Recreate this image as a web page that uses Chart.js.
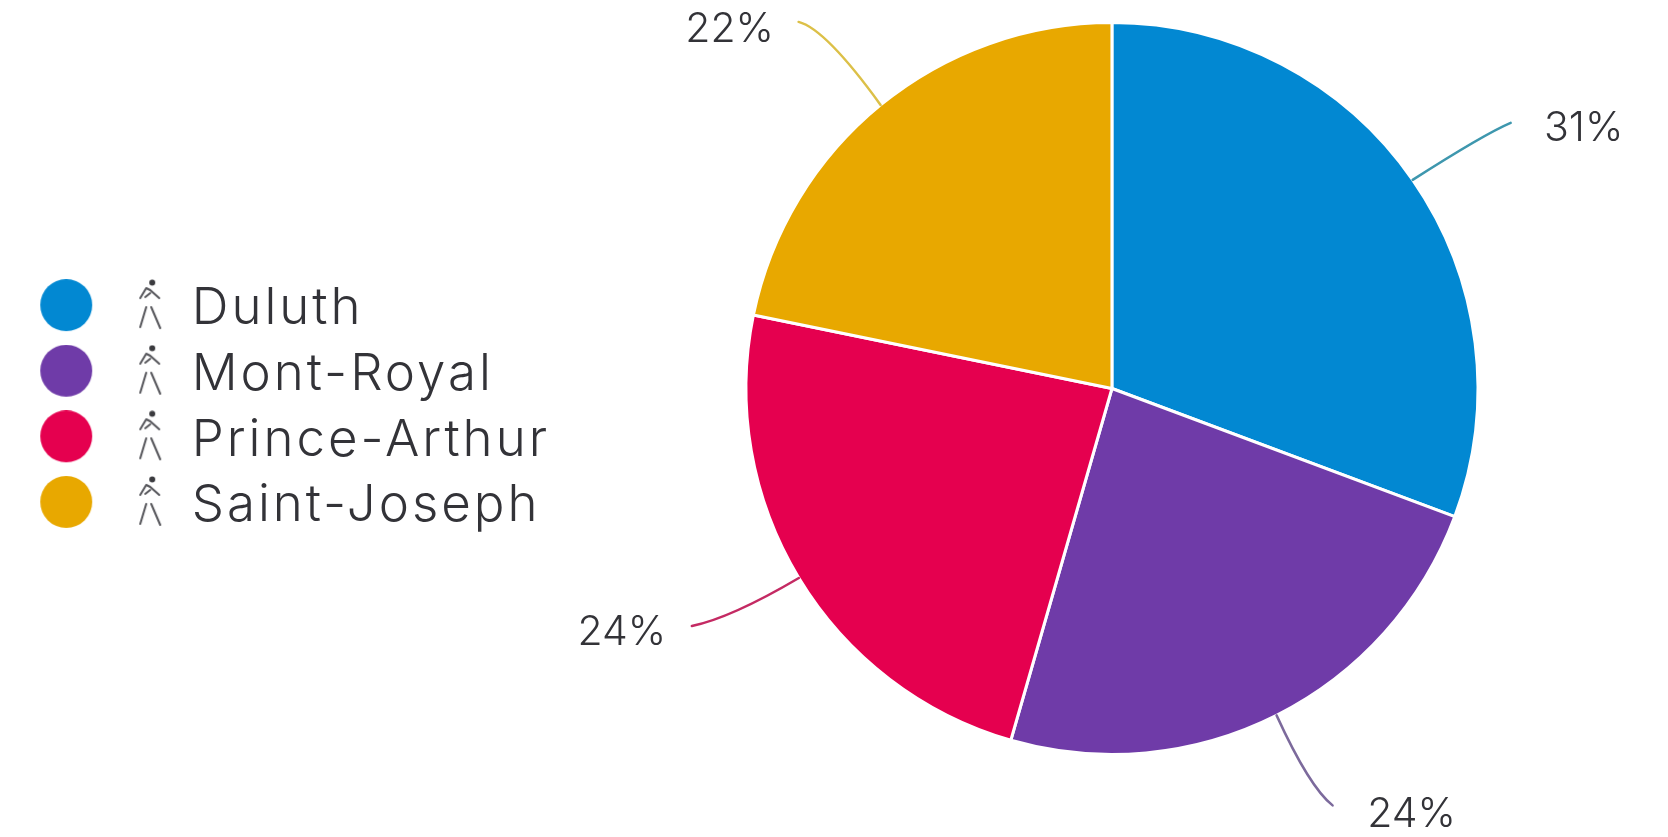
<!DOCTYPE html>
<html>
<head>
<meta charset="utf-8">
<title>Duluth, Mont-Royal, Prince-Arthur, Saint-Joseph</title>
<script src="https://cdn.jsdelivr.net/npm/chart.js@4/dist/chart.umd.min.js"></script>
<style>
  html, body { margin: 0; padding: 0; background: #fff; }
  #wrap { width: 1668px; height: 837px; }
</style>
</head>
<body>
<div id="wrap"><canvas id="pie" width="1668" height="837"></canvas></div>
<script>
const categories = ['Duluth', 'Mont-Royal', 'Prince-Arthur', 'Saint-Joseph'];
const shares = [31, 24, 24, 22];
const sliceColors = ['#0288D2', '#6F3BA8', '#E5004F', '#E8A800'];
const leaderColors = ['#3E97AE', '#7C6A9C', '#C42A63', '#DCC048'];

const FONT = 'Inter, "Open Sans", sans-serif';
const TEXT = '#333338';

// Leader geometry relative to the rim point at each slice's mid-angle: bend, tip, label centre.
const leaderLayout = [
  { bend: [72, -46], tip: [98, -57], label: [171, -51] },
  { bend: [33, 72], tip: [56, 90], label: [135, 99] },
  { bend: [-68, 40], tip: [-107, 48], label: [-177, 55] },
  { bend: [-55, -76], tip: [-82, -83], label: [-151, -75] }
];

// Legend marker: a coloured disc followed by a small walking figure.
function legendMarker(color) {
  const c = document.createElement('canvas');
  c.width = 127;
  c.height = 60;
  const g = c.getContext('2d');
  g.fillStyle = color;
  g.beginPath();
  g.arc(27, 26, 26, 0, Math.PI * 2);
  g.fill();

  g.translate(5, -4);
  g.strokeStyle = '#55555a';
  g.fillStyle = '#3a3a3e';
  g.lineCap = 'round';
  g.lineJoin = 'round';
  g.beginPath();
  g.arc(108, 7.5, 3, 0, Math.PI * 2);
  g.fill();
  g.lineWidth = 2;
  g.beginPath();
  g.moveTo(96, 23);
  g.lineTo(102, 13);
  g.lineTo(106, 15);
  g.lineTo(115, 23);
  g.moveTo(101, 22);
  g.lineTo(106, 18);
  g.stroke();
  g.beginPath();
  g.moveTo(102, 32);
  g.lineTo(96, 52);
  g.moveTo(107, 32);
  g.lineTo(116, 53);
  g.stroke();
  return c;
}
const markers = sliceColors.map(legendMarker);

// Places the legend left of the pie and draws leader lines with their percentages.
const pieDecor = {
  id: 'pieDecor',
  beforeUpdate(chart) {
    // The legend face is set wider through tracking.
    chart.ctx.letterSpacing = '3px';
  },
  afterLayout(chart) {
    const lg = chart.legend;
    const width = lg.width;
    lg.left = 24.6;
    lg.right = lg.left + width;
    lg.top += 19;
    lg.bottom += 19;
  },
  afterDatasetsDraw(chart) {
    const { ctx } = chart;
    const arcs = chart.getDatasetMeta(0).data;
    ctx.save();
    ctx.letterSpacing = '0px';
    arcs.forEach((arc, i) => {
      const mid = (arc.startAngle + arc.endAngle) / 2;
      const x0 = arc.x + Math.cos(mid) * arc.outerRadius;
      const y0 = arc.y + Math.sin(mid) * arc.outerRadius;
      const l = leaderLayout[i];
      ctx.strokeStyle = leaderColors[i];
      ctx.lineWidth = 2.5;
      ctx.lineCap = 'round';
      ctx.beginPath();
      ctx.moveTo(x0, y0);
      ctx.quadraticCurveTo(x0 + l.bend[0], y0 + l.bend[1], x0 + l.tip[0], y0 + l.tip[1]);
      ctx.stroke();
      ctx.fillStyle = TEXT;
      ctx.font = '300 41px ' + FONT;
      ctx.textAlign = 'center';
      ctx.textBaseline = 'middle';
      ctx.fillText(shares[i] + '%', x0 + l.label[0], y0 + l.label[1]);
    });
    ctx.restore();
  }
};

new Chart(document.getElementById('pie'), {
  type: 'pie',
  data: {
    labels: categories,
    datasets: [{
      data: shares,
      backgroundColor: sliceColors,
      borderColor: '#ffffff',
      borderWidth: 3
    }]
  },
  plugins: [pieDecor],
  options: {
    responsive: false,
    animation: false,
    layout: { padding: { top: 21, bottom: 81, left: 20.5, right: 0 } },
    plugins: {
      tooltip: { enabled: false },
      legend: {
        position: 'left',
        labels: {
          usePointStyle: true,
          pointStyleWidth: 127,
          padding: 14.6,
          color: TEXT,
          font: { family: FONT, size: 51, weight: '300' },
          generateLabels: () => categories.map((name, i) => ({
            text: name,
            pointStyle: markers[i],
            fillStyle: sliceColors[i],
            strokeStyle: sliceColors[i],
            lineWidth: 0,
            fontColor: TEXT,
            index: i
          }))
        }
      }
    }
  }
});
</script>
</body>
</html>
